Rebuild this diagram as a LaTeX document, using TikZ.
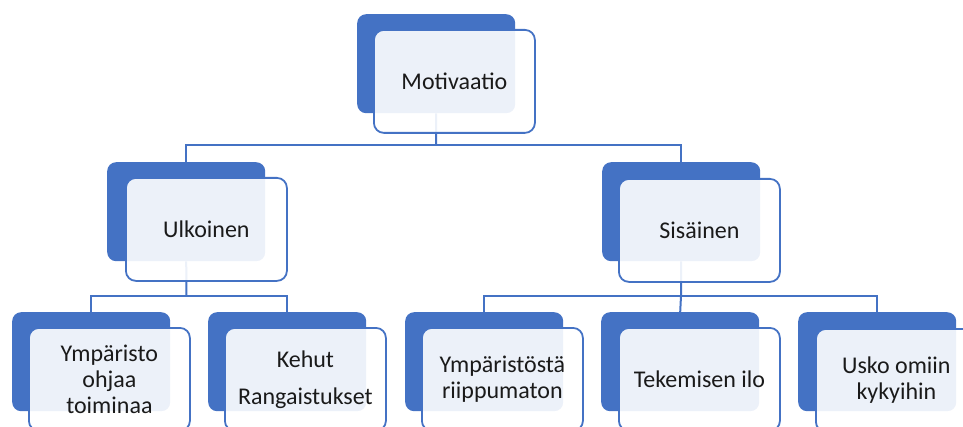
\documentclass[tikz,border=0pt]{standalone}
\usepackage{fontspec}
\setmainfont{Carlito}
\definecolor{sablue}{HTML}{4472C4}
\definecolor{txt}{HTML}{1A1A1A}
\begin{document}
\begin{tikzpicture}[x=1pt,y=1pt,
  backbox/.style={fill=sablue, rounded corners=9pt, minimum width=158pt, minimum height=99pt, inner sep=0pt, anchor=north west},
  frontbox/.style={draw=sablue, line width=1.8pt, fill=white, fill opacity=0.9, text opacity=1, text=txt,
    rounded corners=10pt, minimum width=161pt, minimum height=103pt, inner sep=2pt, anchor=north west,
    align=center, font=\fontsize{24}{26}\selectfont},
  conn/.style={draw=sablue, line width=2pt}]
\useasboundingbox (0,0) rectangle (963,426);
\clip (0,0) rectangle (963,426);
% back boxes
\node[backbox] (m)  at (357,426-14) {};
\node[backbox] (u)  at (107,426-162) {};
\node[backbox] (s)  at (602,426-162) {};
\node[backbox] (b1) at (12,426-312) {};
\node[backbox] (b2) at (208,426-312) {};
\node[backbox] (b3) at (405,426-312) {};
\node[backbox] (b4) at (601,426-312) {};
\node[backbox] (b5) at (798,426-312) {};
% junction coordinates
\coordinate (j0) at (436,426-145);
\coordinate (j1) at (186.5,426-296);
\coordinate (j2) at (681,426-296);
% connectors
\draw[conn] (m.south) -- (j0);
\draw[conn] (u.north) |- (j0) -| (s.north);
\draw[conn] (u.south) -- (j1);
\draw[conn] (b1.north) |- (j1) -| (b2.north);
\draw[conn] (s.south) -- (j2);
\draw[conn] (b3.north) |- (j2) -| (b5.north);
\draw[conn] (b4.north) -- (j2);
% front boxes
\node[frontbox] (mf)  at (373,426-29) {Motivaatio};
\node[frontbox] (uf)  at (125,426-177) {Ulkoinen};
\node[frontbox] (sf)  at (618,426-178) {Sisäinen};
\node[frontbox] (b1f) at (28,426-327) {Ympäristo\\ohjaa\\toiminaa};
\node[frontbox] (b2f) at (224,426-327) {Kehut\\[11pt]Rangaistukset};
\node[frontbox] (b3f) at (421,426-327) {Ympäristöstä\\riippumaton};
\node[frontbox] (b4f) at (618,426-327) {Tekemisen ilo};
\node[frontbox] (b5f) at (815,426-328) {Usko omiin\\kykyihin};
\end{tikzpicture}
\end{document}
